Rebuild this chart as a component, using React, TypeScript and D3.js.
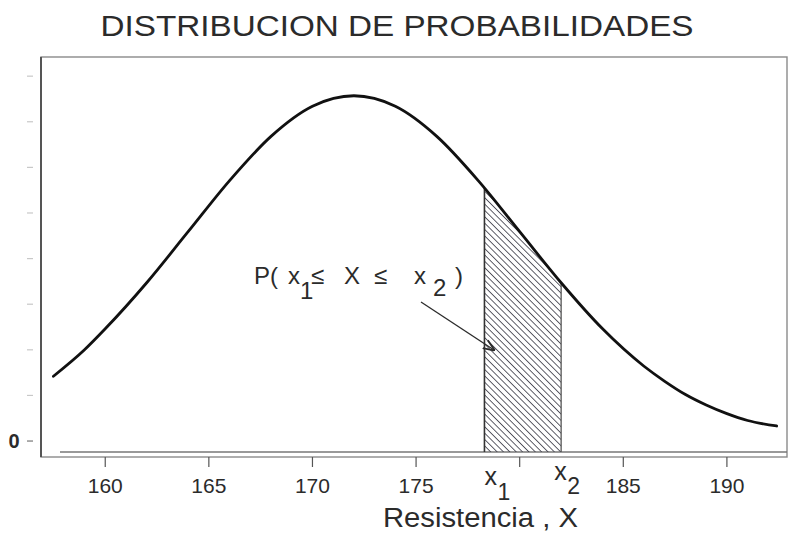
import React from 'react';
import * as d3 from 'd3';

// valores (resistencia vs densidad, unidades de las marcas del eje Y)
const resistencia = [157.5, 159, 160, 162, 164, 166, 168, 170, 172, 174, 176, 178, 180, 182, 184, 186, 187, 188, 189, 190, 191, 192.4];
const densidad = [1.42, 2.0, 2.46, 3.47, 4.59, 5.71, 6.68, 7.34, 7.57, 7.34, 6.68, 5.71, 4.59, 3.47, 2.46, 1.64, 1.31, 1.02, 0.79, 0.6, 0.45, 0.33];

const xTicks = [160, 165, 170, 175, 180, 185, 190];
const xTickLabels = ['160', '165', '170', '175', '', '185', '190'];
const yTicks = [0, 1, 2, 3, 4, 5, 6, 7, 8];
const x1 = 178.3;
const x2 = 182.0;

const W = 790;
const H = 533;
const margin = { top: 57, right: 3, bottom: 76, left: 41 };
const font = 'Liberation Sans, Arial, Helvetica, sans-serif';
const ink = '#2b2b2b';

export default function App() {
  const xScale = d3.scaleLinear().domain([156.9, 192.9]).range([margin.left, W - margin.right]);
  const yScale = d3.scaleLinear().domain([-0.35, 8.42]).range([H - margin.bottom, margin.top]);
  const bottom = H - margin.bottom;
  const innerLine = bottom - 5;

  const pts: [number, number][] = resistencia.map((r, i) => [r, densidad[i]]);
  const line = d3.line<[number, number]>()
    .x(d => xScale(d[0]))
    .y(d => yScale(d[1]))
    .curve(d3.curveMonotoneX);
  const area = d3.area<[number, number]>()
    .x(d => xScale(d[0]))
    .y0(innerLine)
    .y1(d => yScale(d[1]))
    .curve(d3.curveMonotoneX);

  const px1 = xScale(x1);
  const px2 = xScale(x2);

  return (
    <svg width={W} height={H} style={{ position: 'fixed', left: 0, top: 0, background: '#fff' }}
      fontFamily={font}>
      <defs>
        <pattern id="hatch" width="4.5" height="4.5" patternUnits="userSpaceOnUse" patternTransform="rotate(-45)">
          <line x1="0" y1="0" x2="0" y2="4.5" stroke="#44444f" strokeWidth="1.7" />
        </pattern>
        <clipPath id="band">
          <rect x={px1} y={margin.top} width={px2 - px1} height={bottom - margin.top} />
        </clipPath>
        <clipPath id="under">
          <path d={area(pts) ?? ''} />
        </clipPath>
        <marker id="arrow" viewBox="0 0 10 10" refX="9" refY="5" markerWidth="9" markerHeight="9" orient="auto">
          <path d="M0,1 L10,5 L0,9" fill="none" stroke={ink} strokeWidth="1.6" />
        </marker>
      </defs>

      <rect x={0} y={0} width={W} height={H} fill="#fff" />

      <text x={W / 2 + 2} y={36} textAnchor="middle" fontSize={29} fill={ink}
        textLength={593} lengthAdjust="spacingAndGlyphs">DISTRIBUCION DE PROBABILIDADES</text>

      {/* marco */}
      <rect x={margin.left} y={margin.top} width={W - margin.left - margin.right} height={bottom - margin.top}
        fill="none" stroke="#8a8a8a" strokeWidth={1.4} />
      <line x1={margin.left} x2={margin.left} y1={margin.top} y2={bottom} stroke="#555" strokeWidth={2} />
      <line x1={60} x2={W - margin.right} y1={innerLine} y2={innerLine} stroke="#777" strokeWidth={1.4} />

      {/* eje Y */}
      {yTicks.map(t => (
        <line key={t} x1={27} x2={33} y1={yScale(t)} y2={yScale(t)} stroke={t === 0 ? '#777' : '#c8c8c8'} strokeWidth={1.2} />
      ))}
      <text x={14} y={yScale(0) + 7} textAnchor="middle" fontSize={20} fontWeight="bold" fill={ink}>0</text>

      {/* area sombreada */}
      <g clipPath="url(#band)">
        <path d={area(pts) ?? ''} fill="url(#hatch)" />
      </g>
      <g clipPath="url(#under)">
        <line x1={px1} x2={px1} y1={margin.top} y2={innerLine} stroke="#333" strokeWidth={1.6} />
        <line x1={px2} x2={px2} y1={margin.top} y2={innerLine} stroke="#555" strokeWidth={1.3} />
      </g>

      {/* curva */}
      <path d={line(pts) ?? ''} fill="none" stroke="#111" strokeWidth={2.8} strokeLinecap="round" />

      {/* eje X */}
      {xTicks.map((t, i) => (
        <g key={t}>
          <line x1={xScale(t)} x2={xScale(t)} y1={bottom} y2={bottom + 10} stroke="#555" strokeWidth={1.2} />
          <text x={xScale(t)} y={493} textAnchor="middle" fontSize={21} fill={ink}>{xTickLabels[i]}</text>
        </g>
      ))}
      <text x={px1} y={485} fontSize={25} fill={ink}>x</text>
      <text x={px1 + 13} y={500} fontSize={23} fill={ink}>1</text>
      <text x={px2 - 7} y={480} fontSize={25} fill={ink}>x</text>
      <text x={px2 + 6} y={494} fontSize={23} fill={ink}>2</text>

      <text x={383} y={527} fontSize={27} fill={ink} textLength={195} lengthAdjust="spacingAndGlyphs">Resistencia , X</text>

      {/* anotacion */}
      <g fontSize={24} fill={ink}>
        <text x={254} y={284}>P(</text>
        <text x={288} y={284}>x</text>
        <text x={300} y={299}>1</text>
        <text x={311} y={284}>≤</text>
        <text x={344} y={284}>X</text>
        <text x={374} y={284}>≤</text>
        <text x={414} y={284}>x</text>
        <text x={433} y={296}>2</text>
        <text x={455} y={284}>)</text>
      </g>
      <line x1={421} y1={302} x2={494} y2={350} stroke={ink} strokeWidth={1.3} markerEnd="url(#arrow)" />
    </svg>
  );
}
